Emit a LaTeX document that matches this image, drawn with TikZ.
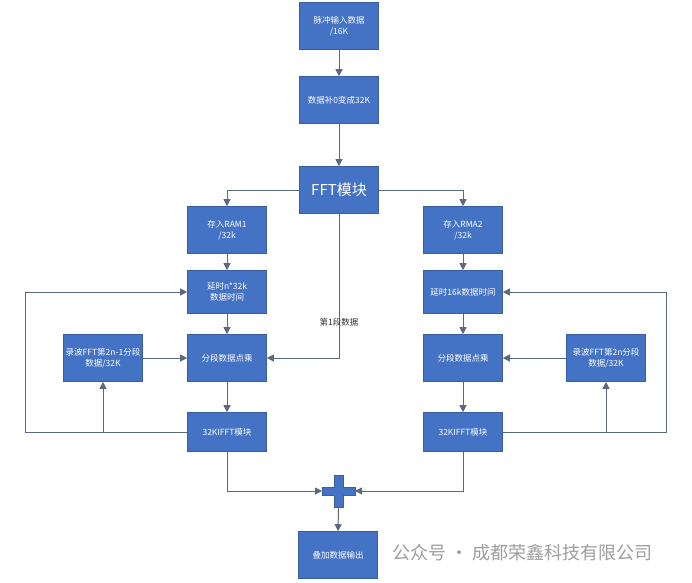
\documentclass[tikz,border=0pt]{standalone}
\usepackage{fontspec}
\newfontfamily\cjk{Noto Sans CJK SC}
\usetikzlibrary{arrows.meta}
\definecolor{boxfill}{HTML}{4472C4}
\definecolor{boxline}{HTML}{3A5F9F}
\definecolor{lnk}{HTML}{5A6A7E}
\tikzset{
  blk/.style={draw=boxline, line width=0.6pt, fill=boxfill, text=white, minimum width=79pt, minimum height=47pt, inner sep=1pt, align=center, font=\cjk\fontsize{8.5}{11}\selectfont},
  lk/.style={draw=lnk, line width=1pt},
  ar/.style={lk, -{Triangle[length=7pt,width=7pt]}},
}
\begin{document}
\begin{tikzpicture}[x=1pt,y=-1pt]
\useasboundingbox (0,0) rectangle (692,582);
\fill[white] (0,0) rectangle (692,582);
% nodes
\node[blk] (in) at (339,26) {脉冲输入数据\\/16K};
\node[blk] (pad) at (339,100) {数据补0变成32K};
\node[blk, minimum height=47pt, font=\cjk\fontsize{15}{18}\selectfont] (fft) at (339,190) {FFT模块};
\node[blk] (ram1) at (227,230) {存入RAM1\\/32k};
\node[blk] (ram2) at (463,230) {存入RMA2\\/32k};
\node[blk, minimum height=43pt] (d1) at (227,292) {延时n*32k\\数据时间};
\node[blk, minimum height=43pt] (d2) at (463,292) {延时16k数据时间};
\node[blk] (m1) at (227,358) {分段数据点乘};
\node[blk] (m2) at (463,358) {分段数据点乘};
\node[blk] (r1) at (103,358) {录波FFT第2n-1分段\\数据/32K};
\node[blk] (r2) at (606,358) {录波FFT第2n分段\\数据/32K};
\node[blk, minimum height=39pt] (i1) at (227,432) {32KIFFT模块};
\node[blk, minimum height=39pt] (i2) at (463,432) {32KIFFT模块};
\node[blk] (out) at (338,555) {叠加数据输出};
% plus
\fill[boxfill, draw=boxline, line width=0.5pt] (322,487) -- (334,487) -- (334,475) -- (343,475) -- (343,487) -- (355,487) -- (355,495) -- (343,495) -- (343,507) -- (334,507) -- (334,495) -- (322,495) -- cycle;
\coordinate (pl) at (322,491);
\coordinate (pr) at (355,491);
\coordinate (pb) at (338.5,507);
% connectors
\draw[ar] (in) -- (pad);
\draw[ar] (pad) -- (fft);
\draw[ar] (fft.west) -| (ram1.north);
\draw[ar] (fft.east) -| (ram2.north);
\draw[ar] (ram1) -- (d1);
\draw[ar] (d1) -- (m1);
\draw[ar] (m1) -- (i1);
\draw[ar] (ram2) -- (d2);
\draw[ar] (d2) -- (m2);
\draw[ar] (m2) -- (i2);
\draw[ar] (fft.south) |- (m1.east);
\node[font=\cjk\fontsize{8.5}{11}\selectfont, text=black!80] (lab) at (339,322) {第1段数据};
\draw[ar] (r1) -- (m1);
\draw[ar] (r2) -- (m2);
\coordinate (l1) at (25,432);
\coordinate (l2) at (666,432);
\draw[ar] (i1.west) -- (l1) |- (d1.west);
\draw[ar] (i2.east) -- (l2) |- (d2.east);
\draw[ar] (r1.south |- i1.west) -- (r1.south);
\draw[ar] (r2.south |- i2.east) -- (r2.south);
\draw[ar] (i1.south) |- (pl);
\draw[ar] (i2.south) |- (pr);
\draw[ar] (pb) -- (out.north);
% watermark
\node[anchor=west, text=black!38, font=\cjk\fontsize{18}{20}\selectfont, inner sep=0pt] (wm) at (392,553) {公众号 · 成都荣鑫科技有限公司};
\end{tikzpicture}
\end{document}
